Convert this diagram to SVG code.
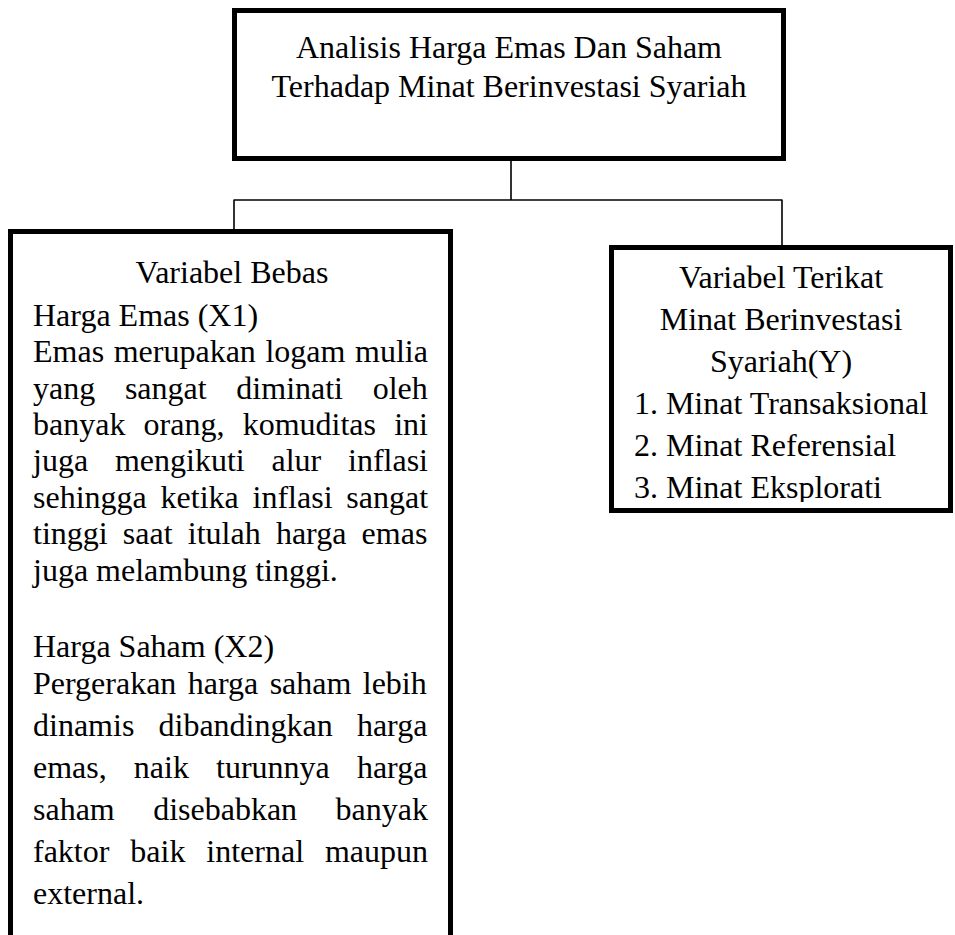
<svg xmlns="http://www.w3.org/2000/svg" width="955" height="935" viewBox="0 0 955 935">
<defs>
<style>
.box{fill:#fff;stroke:#000;stroke-width:5}
.con{fill:none;stroke:#000;stroke-width:1.6}
text{font-family:"Liberation Serif","Times New Roman",serif;font-size:32px;fill:#000}
.c{text-anchor:middle}
</style>
<clipPath id="rclip"><rect x="600" y="240" width="360" height="262"/></clipPath>
</defs>
<rect width="955" height="935" fill="#fff"/>
<g id="connectors">
<path class="con" d="M511 161V200M233.5 200H782.5M234 200V230M782 200V246"/>
</g>
<g id="title">
<rect class="box" x="234.5" y="10.5" width="549" height="148"/>
<text class="c" x="509" y="58">Analisis Harga Emas Dan Saham</text>
<text class="c" x="509" y="97">Terhadap Minat Berinvestasi Syariah</text>
</g>
<g id="bebas">
<rect class="box" x="10.5" y="231.5" width="440" height="720"/>
<text class="c" x="232" y="283">Variabel Bebas</text>
<text x="33" y="326">Harga Emas (X1)</text>
<text x="33" y="362" word-spacing="1.6">Emas merupakan logam mulia</text>
<text x="33" y="398.5" word-spacing="21.7">yang sangat diminati oleh</text>
<text x="33" y="435" word-spacing="10.2">banyak orang, komuditas ini</text>
<text x="33" y="471" word-spacing="18.8">juga mengikuti alur inflasi</text>
<text x="33" y="507.5" word-spacing="5.8">sehingga ketika inflasi sangat</text>
<text x="33" y="544" word-spacing="7.2">tinggi saat itulah harga emas</text>
<text x="33" y="581">juga melambung tinggi.</text>
<text x="33" y="657">Harga Saham (X2)</text>
<text x="33" y="694" word-spacing="3.4">Pergerakan harga saham lebih</text>
<text x="33" y="736" word-spacing="16.2">dinamis dibandingkan harga</text>
<text x="33" y="778" word-spacing="19.1">emas, naik turunnya harga</text>
<text x="33" y="820" word-spacing="30.4">saham disebabkan banyak</text>
<text x="33" y="862" word-spacing="12.9">faktor baik internal maupun</text>
<text x="33" y="904">external.</text>
</g>
<g id="terikat">
<rect class="box" x="611.5" y="247.5" width="339" height="263"/>
<g clip-path="url(#rclip)">
<text class="c" x="781" y="288">Variabel Terikat</text>
<text class="c" x="781" y="330">Minat Berinvestasi</text>
<text class="c" x="781" y="372">Syariah(Y)</text>
<text class="c" x="781" y="414">1. Minat Transaksional</text>
<text x="634" y="456">2. Minat Referensial</text>
<text x="634" y="498">3. Minat Eksplorati</text>
</g>
</g>
</svg>
